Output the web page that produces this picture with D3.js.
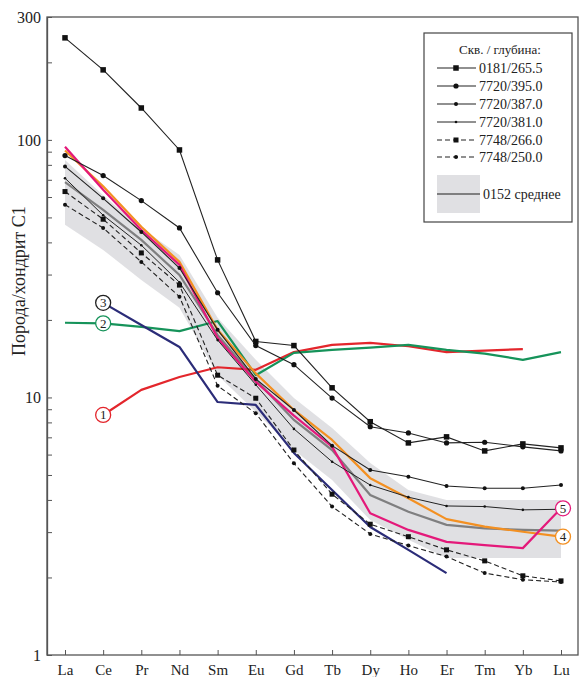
<!DOCTYPE html>
<html>
<head>
<meta charset="utf-8">
<script src="https://cdn.jsdelivr.net/npm/d3@7"></script>
<style>
  html, body { margin: 0; padding: 0; background: #fff; }
  svg { display: block; }
  text { font-family: "Liberation Serif", "DejaVu Serif", serif; fill: #222; }
</style>
</head>
<body>
<svg id="chart" width="584" height="677"></svg>
<script>
// REE elements (chondrite-normalised spider diagram)
const elements = ["La","Ce","Pr","Nd","Sm","Eu","Gd","Tb","Dy","Ho","Er","Tm","Yb","Lu"];

// Borehole / depth samples (black lines)
const s0181_2655 = [249, 187, 133, 91.4, 34.2, 16.5, 15.9, 10.9, 8.05, 6.66, 7.03, 6.2, 6.6, 6.37];
const s7720_3950 = [86.9, 72.7, 58.1, 45.5, 25.5, 15.9, 13.4, 9.94, 7.7, 7.28, 6.66, 6.7, 6.43, 6.2];
const s7720_3870 = [78.9, 59.3, 43.9, 31.8, 18.3, 11.8, 8.94, 6.5, 5.23, 4.92, 4.53, 4.44, 4.44, 4.57];
const s7720_3810 = [71, 51, 39, 28, 16.7, 11.2, 7.55, 5.63, 4.57, 4.1, 3.79, 3.77, 3.66, 3.68];
const s7748_2660 = [63, 49.2, 36.4, 27.3, 12.2, 9.93, 6.25, 4.21, 3.22, 2.88, 2.56, 2.32, 2.03, 1.94];
const s7748_2500 = [56, 45.5, 33.6, 24.6, 11.1, 8.68, 5.55, 3.77, 2.95, 2.66, 2.41, 2.08, 1.96, 1.92];

// Borehole 0152: mean and range
const mean0152 = [68.6, 53.5, 40.9, 29.9, 17.5, 11.7, 8.18, 6.25, 4.18, 3.6, 3.2, 3.1, 3.06, 3.04];
const max0152  = [83.6, 61, 45.5, 35.7, 20.4, 14, 9.96, 7.61, 5.57, 4.37, 4.0, 4.0, 4.0, 4.0];
const min0152  = [46.8, 37.4, 28.6, 22.3, 12.2, 8.79, 6.25, 4.78, 3.34, 2.8, 2.38, 2.38, 2.38, 2.38];

// Reference patterns 1-5 (null = not shown)
const ref1 = [null, 8.55, 10.7, 12.0, 13.1, 12.8, 15.0, 16.0, 16.3, 15.8, 15.0, 15.2, 15.4, null];
const ref2 = [19.5, 19.4, 18.8, 18.1, 19.8, 12.2, 14.9, 15.3, 15.6, 16.0, 15.3, 14.8, 14.0, 15.0];
const ref3 = [null, 23.3, 19.1, 15.7, 9.6, 9.35, 6.09, 4.37, 3.14, 2.56, 2.08, null, null, null];
const ref4 = [91, 66, 46, 33.6, 18.3, 12.4, 8.94, 6.84, 4.86, 4.06, 3.37, 3.15, 3.01, 2.88];
const ref5 = [94, 64, 44.7, 32.7, 17, 11.5, 8.5, 6.44, 3.55, 3.06, 2.75, 2.67, 2.6, 3.71];

const yTickLabels = [1, 10, 100, 300];
const legendTitle = "Скв. / глубина:";
const sampleNames = ["0181/265.5", "7720/395.0", "7720/387.0", "7720/381.0", "7748/266.0", "7748/250.0"];
const meanName = "0152 среднее";
const yTitle = "Порода/хондрит C1";

const svg = d3.select("#chart");
const plotLeft = 47, plotRight = 578, plotTop = 17, plotBottom = 655;

const x = d3.scalePoint().domain(elements).range([65, 561]).padding(0);
const y = d3.scaleLog().domain([1, 300]).range([plotBottom, plotTop]);

// Frame
svg.append("rect").attr("x", plotLeft).attr("y", plotTop)
  .attr("width", plotRight - plotLeft).attr("height", plotBottom - plotTop)
  .attr("fill", "none").attr("stroke", "#555").attr("stroke-width", 1.3);

// Axes
const minorVals = [];
for (const d of [1, 10, 100]) for (let k = 1; k <= 9; k++) if (d * k <= 300) minorVals.push(d * k);
const yAxis = d3.axisLeft(y).tickValues(minorVals).tickSizeInner(-5).tickSizeOuter(0).tickPadding(6)
  .tickFormat(v => yTickLabels.includes(v) ? String(v) : "");
const gy = svg.append("g").attr("transform", `translate(${plotLeft},0)`).call(yAxis);
gy.select(".domain").attr("stroke", "#555").attr("stroke-width", 1.3);
gy.selectAll(".tick line").attr("stroke", "#555");
gy.selectAll(".tick text").attr("font-size", 16).attr("fill", "#222");

const xAxis = d3.axisBottom(x).tickSizeInner(-5).tickSizeOuter(0).tickPadding(9);
const gx = svg.append("g").attr("transform", `translate(0,${plotBottom})`).call(xAxis);
gx.select(".domain").remove();
gx.selectAll(".tick line").attr("stroke", "#555");
gx.selectAll(".tick text").attr("font-size", 15).attr("fill", "#222");

svg.append("text").attr("transform", `translate(25,${(plotTop + plotBottom) / 2 - 55}) rotate(-90)`)
  .attr("text-anchor", "middle").attr("font-size", 18).text(yTitle);

const plot = svg.append("g");

// Range band of borehole 0152
const area = d3.area()
  .x((d, i) => x(elements[i]))
  .y0((d, i) => y(min0152[i]))
  .y1((d, i) => y(max0152[i]));
plot.append("path").datum(max0152).attr("d", area).attr("fill", "#d6d6d9").attr("opacity", 0.75);

const line = d3.line().defined(d => d != null)
  .x((d, i) => x(elements[i])).y(d => y(d));

// Mean line
plot.append("path").datum(mean0152).attr("d", line)
  .attr("fill", "none").attr("stroke", "#7f7f80").attr("stroke-width", 2.2);

// Reference coloured patterns
const refs = [
  { data: ref1, color: "#e3262c" },
  { data: ref2, color: "#16935a" },
  { data: ref3, color: "#2b2c78" },
  { data: ref4, color: "#f39022" },
  { data: ref5, color: "#e4197a" }
];
refs.forEach(r => {
  plot.append("path").datum(r.data).attr("d", line)
    .attr("fill", "none").attr("stroke", r.color).attr("stroke-width", 2.2)
    .attr("stroke-linejoin", "round");
});

// Samples
const samples = [
  { data: s0181_2655, dash: null, marker: "square", size: 5.5, w: 1.1 },
  { data: s7720_3950, dash: null, marker: "dot", size: 2.6, w: 1.1 },
  { data: s7720_3870, dash: null, marker: "dot", size: 2.0, w: 1.1 },
  { data: s7720_3810, dash: null, marker: "dot", size: 1.3, w: 1.0 },
  { data: s7748_2660, dash: "5,3", marker: "square", size: 5.0, w: 1.1 },
  { data: s7748_2500, dash: "5,3", marker: "dot", size: 2.0, w: 1.1 }
];
function drawMarker(g, m, cx, cy) {
  if (m.marker === "square") {
    g.append("rect").attr("x", cx - m.size / 2).attr("y", cy - m.size / 2)
      .attr("width", m.size).attr("height", m.size).attr("fill", "#111");
  } else {
    g.append("circle").attr("cx", cx).attr("cy", cy).attr("r", m.size).attr("fill", "#111");
  }
}
samples.forEach(s => {
  const p = plot.append("path").datum(s.data).attr("d", line)
    .attr("fill", "none").attr("stroke", "#222").attr("stroke-width", s.w);
  if (s.dash) p.attr("stroke-dasharray", s.dash);
  const g = plot.append("g");
  s.data.forEach((v, i) => { if (v != null) drawMarker(g, s, x(elements[i]), y(v)); });
});

// Numbered labels on reference patterns
const labelSpots = [
  { n: "1", data: ref1, el: "Ce", color: "#e3262c" },
  { n: "2", data: ref2, el: "Ce", color: "#16935a" },
  { n: "3", data: ref3, el: "Ce", color: "#222" },
  { n: "4", data: ref4, el: "Lu", color: "#f39022" },
  { n: "5", data: ref5, el: "Lu", color: "#e4197a" }
];
labelSpots.forEach(l => {
  const i = elements.indexOf(l.el);
  const cx = x(l.el) + (l.el === "Lu" ? 2 : 0), cy = y(l.data[i]);
  svg.append("circle").attr("cx", cx).attr("cy", cy).attr("r", 7.5)
    .attr("fill", "#fff").attr("stroke", l.color).attr("stroke-width", 1.3);
  svg.append("text").attr("x", cx).attr("y", cy + 4.5).attr("text-anchor", "middle")
    .attr("font-size", 13).attr("fill", l.color).text(l.n);
});

// Legend
const lg = svg.append("g");
lg.append("rect").attr("x", 424).attr("y", 33).attr("width", 148).attr("height", 189)
  .attr("fill", "#fff").attr("stroke", "#444").attr("stroke-width", 1.2);
lg.append("text").attr("x", 459).attr("y", 54).attr("font-size", 13).text(legendTitle);
const rowY = [68, 86, 104, 122, 140, 157];
samples.forEach((s, i) => {
  const ly = rowY[i];
  const l = lg.append("line").attr("x1", 437).attr("x2", 476).attr("y1", ly).attr("y2", ly)
    .attr("stroke", "#222").attr("stroke-width", s.w);
  if (s.dash) l.attr("stroke-dasharray", "5,3");
  drawMarker(lg, s, 456, ly);
  lg.append("text").attr("x", 479).attr("y", ly + 5).attr("font-size", 14).text(sampleNames[i]);
});
lg.append("rect").attr("x", 437).attr("y", 175).attr("width", 43).attr("height", 38)
  .attr("fill", "#d6d6d9").attr("opacity", 0.75);
lg.append("line").attr("x1", 437).attr("x2", 480).attr("y1", 194).attr("y2", 194)
  .attr("stroke", "#7f7f80").attr("stroke-width", 2.2);
lg.append("text").attr("x", 483).attr("y", 199).attr("font-size", 14).text(meanName);
</script>
</body>
</html>
